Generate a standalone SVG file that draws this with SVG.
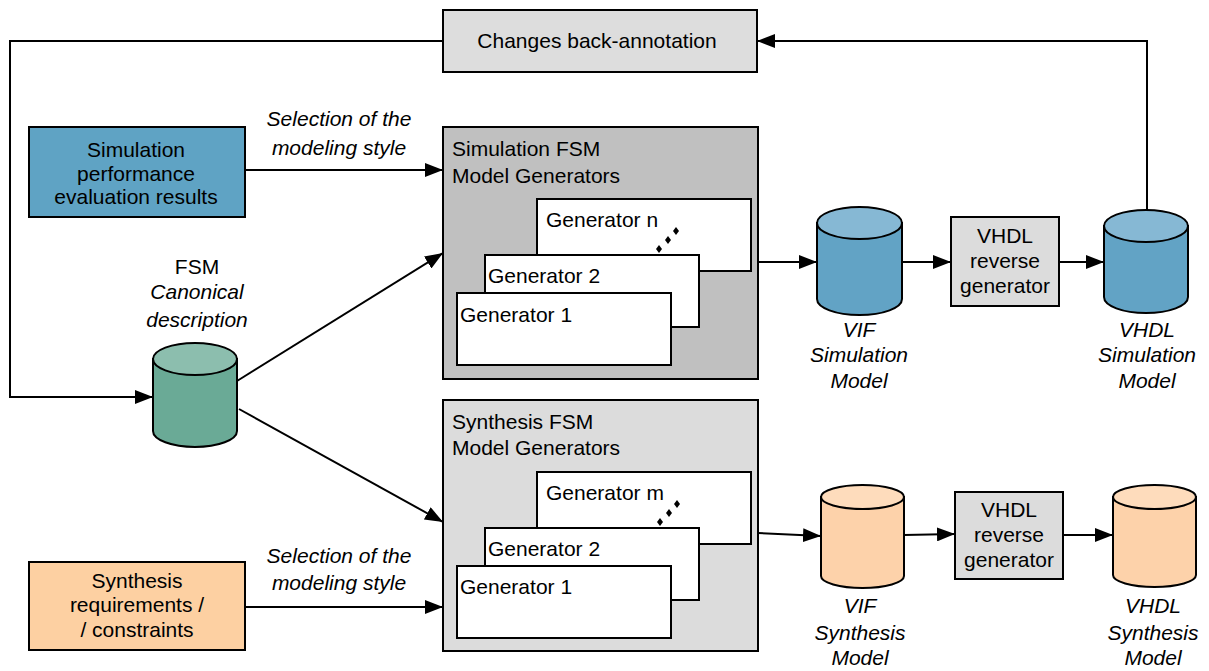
<svg xmlns="http://www.w3.org/2000/svg" width="1209" height="671" viewBox="0 0 1209 671">
<style>
text{font-family:"Liberation Sans",Arial,sans-serif;font-size:21px;fill:#000}
.c{text-anchor:middle}
.i{font-style:italic}
.box{stroke:#000;stroke-width:2}
.cyl{stroke:#000;stroke-width:2}
.ln{fill:none;stroke:#000;stroke-width:2;marker-end:url(#ah)}
.ln0{fill:none;stroke:#000;stroke-width:2}
</style>
<defs>
<marker id="ah" markerUnits="userSpaceOnUse" markerWidth="18" markerHeight="14" viewBox="0 0 18 14" refX="18" refY="7" orient="auto">
<path d="M0,0 L18,7 L0,14 Z" fill="#000"/>
</marker>
</defs>
<rect width="1209" height="671" fill="#fff"/>

<g id="connectors">
<path class="ln" d="M443,41 H10 V397 H153"/>
<path class="ln" d="M1147,210 V41 H757"/>
<path class="ln" d="M245,170 H443"/>
<path class="ln" d="M237,381 L443,253"/>
<path class="ln" d="M239,409 L443,522"/>
<path class="ln" d="M245,607 H443"/>
<path class="ln" d="M758,262 H817"/>
<path class="ln" d="M902,262 H951"/>
<path class="ln" d="M1059,262 H1104"/>
<path class="ln" d="M758,533 L821,536"/>
<path class="ln" d="M904,535 L955,534"/>
<path class="ln" d="M1063,535 H1113"/>
</g>

<g id="back-annotation">
<rect class="box" x="443" y="10" width="314" height="62" fill="#dddddd"/>
<text class="c" x="597" y="48">Changes back-annotation</text>
</g>

<g id="sim-perf">
<rect class="box" x="29" y="127" width="216" height="90" fill="#5fa3c4"/>
<text class="c" x="136" y="157">Simulation</text>
<text class="c" x="136" y="181">performance</text>
<text class="c" x="136" y="204">evaluation results</text>
</g>

<g id="label-sel-sim">
<text class="c i" x="339" y="126">Selection of the</text>
<text class="c i" x="339" y="155">modeling style</text>
</g>

<g id="fsm">
<text class="c" x="197" y="274">FSM</text>
<text class="c i" x="197" y="299">Canonical</text>
<text class="c i" x="197" y="327">description</text>
<path class="cyl" fill="#6aaa96" d="M153,359 V431 A42,16 0 0 0 237,431 V359 Z"/>
<ellipse class="cyl" cx="195" cy="359" rx="42" ry="16" fill="#8cbeae"/>
</g>

<g id="sim-gen">
<rect class="box" x="443" y="127" width="315" height="252" fill="#c0c0c0"/>
<text x="452" y="156">Simulation FSM</text>
<text x="452" y="183">Model Generators</text>
<rect class="box" x="537" y="199" width="214" height="72" fill="#fff"/>
<text x="546" y="227">Generator n</text>
<g fill="#000">
<path d="M659,245 L662,249 L659,253 L656,249 Z"/>
<path d="M668,236 L671,240 L668,244 L665,240 Z"/>
<path d="M676,227 L679,231 L676,235 L673,231 Z"/>
</g>
<rect class="box" x="485" y="255" width="214" height="72" fill="#fff"/>
<text x="488" y="283">Generator 2</text>
<rect class="box" x="457" y="293" width="214" height="72" fill="#fff"/>
<text x="460" y="322">Generator 1</text>
</g>

<g id="vif-sim">
<path class="cyl" fill="#62a3c5" d="M817,223 V299 A42.5,16 0 0 0 902,299 V223 Z"/>
<ellipse class="cyl" cx="859.5" cy="223" rx="42.5" ry="16" fill="#86b8d4"/>
<text class="c i" x="859" y="337">VIF</text>
<text class="c i" x="859" y="362">Simulation</text>
<text class="c i" x="859" y="388">Model</text>
</g>

<g id="vhdl-rev-sim">
<rect class="box" x="951" y="217" width="108" height="89" fill="#dcdcdc"/>
<text class="c" x="1005" y="243">VHDL</text>
<text class="c" x="1005" y="268">reverse</text>
<text class="c" x="1005" y="293">generator</text>
</g>

<g id="vhdl-sim">
<path class="cyl" fill="#62a3c5" d="M1104,226 V297 A42,16 0 0 0 1188,297 V226 Z"/>
<ellipse class="cyl" cx="1146" cy="226" rx="42" ry="16" fill="#86b8d4"/>
<text class="c i" x="1147" y="337">VHDL</text>
<text class="c i" x="1147" y="362">Simulation</text>
<text class="c i" x="1147" y="388">Model</text>
</g>

<g id="syn-gen">
<rect class="box" x="443" y="400" width="315" height="251" fill="#dcdcdc"/>
<text x="452" y="429">Synthesis FSM</text>
<text x="452" y="455">Model Generators</text>
<rect class="box" x="537" y="472" width="214" height="72" fill="#fff"/>
<text x="546" y="500">Generator m</text>
<g fill="#000">
<path d="M660,518 L663,522 L660,526 L657,522 Z"/>
<path d="M669,509 L672,513 L669,517 L666,513 Z"/>
<path d="M677,500 L680,504 L677,508 L674,504 Z"/>
</g>
<rect class="box" x="485" y="528" width="214" height="72" fill="#fff"/>
<text x="488" y="556">Generator 2</text>
<rect class="box" x="457" y="566" width="214" height="72" fill="#fff"/>
<text x="460" y="594">Generator 1</text>
</g>

<g id="syn-req">
<rect class="box" x="29" y="562" width="216" height="88" fill="#fdd0a2"/>
<text class="c" x="137" y="588">Synthesis</text>
<text class="c" x="137" y="612">requirements /</text>
<text class="c" x="137" y="637">/ constraints</text>
</g>

<g id="label-sel-syn">
<text class="c i" x="339" y="563">Selection of the</text>
<text class="c i" x="339" y="590">modeling style</text>
</g>

<g id="vif-syn">
<path class="cyl" fill="#fdd2aa" d="M821,497 V576 A41.5,12 0 0 0 904,576 V497 Z"/>
<ellipse class="cyl" cx="862.5" cy="497" rx="41.5" ry="12" fill="#fedcbc"/>
<text class="c i" x="860" y="613">VIF</text>
<text class="c i" x="860" y="640">Synthesis</text>
<text class="c i" x="860" y="665">Model</text>
</g>

<g id="vhdl-rev-syn">
<rect class="box" x="955" y="492" width="108" height="87" fill="#dcdcdc"/>
<text class="c" x="1009" y="517">VHDL</text>
<text class="c" x="1009" y="542">reverse</text>
<text class="c" x="1009" y="567">generator</text>
</g>

<g id="vhdl-syn">
<path class="cyl" fill="#fdd2aa" d="M1113,497 V575 A41.5,12 0 0 0 1196,575 V497 Z"/>
<ellipse class="cyl" cx="1154.5" cy="497" rx="41.5" ry="12" fill="#fedcbc"/>
<text class="c i" x="1153" y="613">VHDL</text>
<text class="c i" x="1153" y="640">Synthesis</text>
<text class="c i" x="1153" y="665">Model</text>
</g>
</svg>
